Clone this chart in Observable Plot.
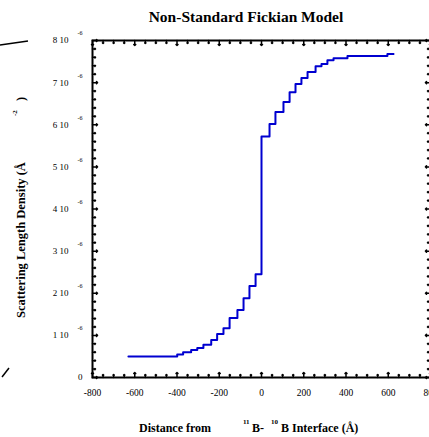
<!DOCTYPE html>
<html><head><meta charset="utf-8">
<script src="https://cdn.jsdelivr.net/npm/d3@7"></script>
<script src="https://cdn.jsdelivr.net/npm/@observablehq/plot@0.6"></script>
<style>body{margin:0;background:#fff} svg{display:block;overflow:visible}</style>
</head><body><div id="chart"></div>
<script>
// Distance from 11B-10B interface (Å), start of each step
const distance = [-630, -399, -371, -333, -304, -275, -238, -210, -180, -151, -114, -85, -57, -28, 0, 38, 66, 104, 133, 161, 189, 218, 256, 284, 312, 341, 407, 596, 625];
// Scattering length density, in units of 1e-6 Å^-2
const sld = [0.50, 0.546, 0.60, 0.65, 0.70, 0.78, 0.89, 1.03, 1.17, 1.41, 1.60, 1.88, 2.17, 2.45, 5.72, 6.02, 6.30, 6.54, 6.77, 6.97, 7.11, 7.25, 7.39, 7.44, 7.53, 7.58, 7.63, 7.68, 7.68];

const xMajorTicks = [-800, -600, -400, -200, 0, 200, 400, 600, 800];
const xMinorTicks = [-750,-700,-650,-550,-500,-450,-350,-300,-250,-150,-100,-50,50,100,150,250,300,350,450,500,550,650,700,750];
const yMajorTicks = [0, 1, 2, 3, 4, 5, 6, 7, 8];
const yMinorTicks = [0.2,0.4,0.6,0.8,1.2,1.4,1.6,1.8,2.2,2.4,2.6,2.8,3.2,3.4,3.6,3.8,4.2,4.4,4.6,4.8,5.2,5.4,5.6,5.8,6.2,6.4,6.6,6.8,7.2,7.4,7.6,7.8];
const yTickMantissa = [1, 2, 3, 4, 5, 6, 7, 8];
const yTickExp = "-6";

const data = distance.map((d, i) => ({x: d, y: sld[i]}));
const font = "Liberation Serif, Times New Roman, serif";

// inward tick marks drawn as short vectors from the frame edges
function ticksAt(values, side, len) {
  const o = {length: len, anchor: "start", stroke: "#000", strokeWidth: 1.5};
  if (side === "bottom") return Plot.vector(values, {...o, x: d => d, y: () => 0, rotate: 0});
  if (side === "top") return Plot.vector(values, {...o, x: d => d, y: () => 8, rotate: 180});
  if (side === "left") return Plot.vector(values, {...o, x: () => -800, y: d => d, rotate: 90});
  return Plot.vector(values, {...o, x: () => 800, y: d => d, rotate: 270});
}

const chart = Plot.plot({
  width: 429, height: 437,
  marginLeft: 92, marginRight: -1, marginTop: 40, marginBottom: 60,
  style: {fontFamily: font, background: "#fff", color: "#000", overflow: "visible"},
  x: {domain: [-800, 800], axis: null},
  y: {domain: [0, 8], axis: null},
  marks: [
    ticksAt(xMajorTicks, "bottom", 5), ticksAt(xMinorTicks, "bottom", 3),
    ticksAt(xMajorTicks, "top", 5), ticksAt(xMinorTicks, "top", 3),
    ticksAt(yMajorTicks, "left", 5), ticksAt(yMinorTicks, "left", 3),
    ticksAt(yMajorTicks, "right", 5), ticksAt(yMinorTicks, "right", 3),
    // x tick labels
    Plot.text(xMajorTicks, {x: d => d, y: () => 0, text: d => String(d), dy: 15, fontSize: 9.5, fill: "#000"}),
    // y tick labels with exponent
    Plot.text([0], {x: () => -800, y: d => d, text: () => "0", textAnchor: "end", dx: -10, fontSize: 9, fill: "#000"}),
    Plot.text(yTickMantissa, {x: () => -800, y: d => d, text: d => `${d} 10`, textAnchor: "end", dx: -24, fontSize: 9, fill: "#000"}),
    Plot.text(yTickMantissa, {x: () => -800, y: d => d, text: () => yTickExp, textAnchor: "end", dx: -10, dy: -7, fontSize: 6, fill: "#000"}),
    Plot.frame({stroke: "#000", strokeWidth: 2}),
    Plot.line(data, {x: "x", y: "y", curve: "step-after", stroke: "#0000d0", strokeWidth: 2})
  ]
});
document.getElementById("chart").appendChild(chart);

const svg = d3.select(chart);
svg.append("text").attr("x", 246).attr("y", 22).attr("text-anchor", "middle")
  .attr("font-family", font).attr("font-weight", "bold").attr("font-size", 15.5).text("Non-Standard Fickian Model");

const xt = svg.append("g").attr("font-family", font).attr("font-weight", "bold").attr("fill", "#000").attr("text-anchor", "start");
xt.append("text").attr("x", 139).attr("y", 432).attr("font-size", 12).text("Distance from");
xt.append("text").attr("x", 243).attr("y", 424).attr("font-size", 7).text("11");
xt.append("text").attr("x", 252).attr("y", 432).attr("font-size", 12).text("B-");
xt.append("text").attr("x", 271).attr("y", 424).attr("font-size", 7).text("10");
xt.append("text").attr("x", 281).attr("y", 432).attr("font-size", 12).text("B Interface (Å)");

const yt = svg.append("g").attr("font-family", font).attr("font-weight", "bold").attr("fill", "#000").attr("text-anchor", "start");
yt.append("text").attr("transform", "translate(25,318) rotate(-90)").attr("font-size", 12.5).text("Scattering Length Density (Å");
yt.append("text").attr("transform", "translate(17,116) rotate(-90)").attr("font-size", 7).text("-2");
yt.append("text").attr("transform", "translate(25,101) rotate(-90)").attr("font-size", 12.5).text(")");

svg.append("line").attr("x1", 0).attr("y1", 45).attr("x2", 28).attr("y2", 41).attr("stroke", "#000").attr("stroke-width", 1.5);
svg.append("line").attr("x1", 2).attr("y1", 377).attr("x2", 9).attr("y2", 368).attr("stroke", "#000").attr("stroke-width", 1.5);
</script></body></html>
